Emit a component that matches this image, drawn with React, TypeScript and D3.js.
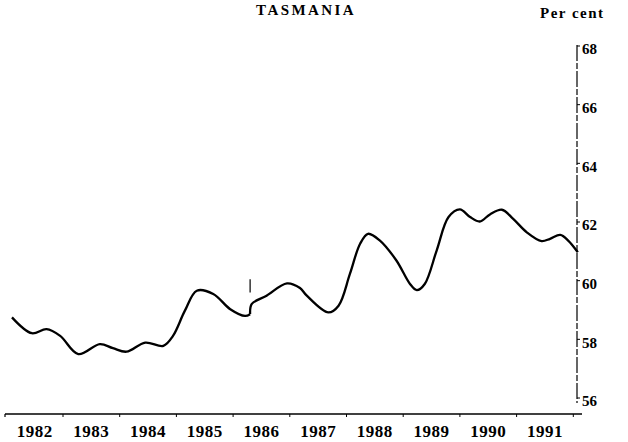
import React from "react";
import * as d3 from "d3";

const W = 628;
const H = 442;

// Series before the 1986 break (fractional year, per cent)
const years1 = [1982.1, 1982.45, 1982.71, 1982.95, 1983.27, 1983.65, 1983.88, 1984.12, 1984.45, 1984.77, 1984.94, 1985.15, 1985.36, 1985.65, 1985.95, 1986.21, 1986.3];
const values1 = [58.85, 58.31, 58.45, 58.22, 57.6, 57.94, 57.8, 57.68, 57.99, 57.88, 58.22, 59.08, 59.76, 59.65, 59.13, 58.9, 58.96];

// Series after the break
const years2 = [1986.3, 1986.33, 1986.59, 1986.95, 1987.18, 1987.3, 1987.68, 1987.86, 1988.06, 1988.24, 1988.38, 1988.59, 1988.88, 1989.12, 1989.24, 1989.38, 1989.59, 1989.8, 1990.0, 1990.18, 1990.35, 1990.53, 1990.74, 1990.94, 1991.18, 1991.44, 1991.59, 1991.77, 1991.91, 1992.08];
const values2 = [58.96, 59.31, 59.59, 60.01, 59.85, 59.59, 59.02, 59.25, 60.33, 61.36, 61.7, 61.47, 60.79, 59.99, 59.78, 59.99, 61.13, 62.27, 62.53, 62.27, 62.12, 62.36, 62.52, 62.21, 61.75, 61.45, 61.53, 61.66, 61.47, 61.07];

const breakYear = 1986.3;
const breakRange = [59.7, 60.15];

const yearLabels = ["1982", "1983", "1984", "1985", "1986", "1987", "1988", "1989", "1990", "1991"];
const xTickYears = [1983, 1984, 1985, 1986, 1987, 1988, 1989, 1990, 1991, 1992];
const yTicks = [56, 58, 60, 62, 64, 66, 68];

export default function App() {
  const x = d3.scaleLinear().domain([1982, 1992]).range([6.3, 573.3]);
  const y = d3.scaleLinear().domain([56, 68]).range([401, 49]);

  const line = d3
    .line<[number, number]>()
    .x((d) => x(d[0]))
    .y((d) => y(d[1]))
    .curve(d3.curveCatmullRom.alpha(0.5));

  const seg1: [number, number][] = years1.map((t, i) => [t, values1[i]]);
  const seg2: [number, number][] = years2.map((t, i) => [t, values2[i]]);

  const serif = "'Liberation Serif', 'DejaVu Serif', serif";
  const axisX = 577;
  const baseY = 414;

  return (
    <svg
      width={W}
      height={H}
      style={{ position: "absolute", left: 0, top: 0, background: "#fff" }}
      fontFamily={serif}
    >
      <rect x={0} y={0} width={W} height={H} fill="#fff" />
      {/* Title */}
      <text x={306} y={15} textAnchor="middle" fontSize={15} fontWeight="bold" letterSpacing={2.4}>
        TASMANIA
      </text>
      <text x={540} y={18} fontSize={15} fontWeight="bold" letterSpacing={1.5}>
        Per cent
      </text>

      {/* Right axis */}
      <line x1={axisX} x2={axisX} y1={y(68) - 4} y2={y(56) + 2} stroke="#000" strokeWidth={1.2} strokeDasharray="16 2 6 2" />
      {yTicks.map((v) => (
        <g key={v}>
          <line x1={axisX} x2={axisX + 3} y1={y(v) - 3} y2={y(v) - 3} stroke="#000" strokeWidth={1} />
          <text x={axisX + 5} y={y(v)} dy="0.35em" fontSize={15} fontWeight="bold">
            {v}
          </text>
        </g>
      ))}

      {/* Bottom axis */}
      <line x1={5} x2={582} y1={baseY} y2={baseY} stroke="#000" strokeWidth={1.5} />
      <line x1={5} x2={5} y1={baseY} y2={baseY + 3} stroke="#000" strokeWidth={1.2} />
      {xTickYears.map((t) => (
        <line key={t} x1={x(t)} x2={x(t)} y1={baseY} y2={baseY + 3} stroke="#000" strokeWidth={1} />
      ))}
      {yearLabels.map((lab) => (
        <text key={lab} x={x(+lab + 0.5)} y={437} textAnchor="middle" fontSize={17} fontWeight="bold" letterSpacing={0.5}>
          {lab}
        </text>
      ))}

      {/* Data line */}
      <path d={line(seg1) || ""} fill="none" stroke="#000" strokeWidth={2.3} strokeLinejoin="round" />
      <path d={line(seg2) || ""} fill="none" stroke="#000" strokeWidth={2.3} strokeLinejoin="round" />
      {/* Break marker */}
      <line x1={x(breakYear)} x2={x(breakYear)} y1={y(breakRange[1])} y2={y(breakRange[0])} stroke="#000" strokeWidth={1.2} />
    </svg>
  );
}
